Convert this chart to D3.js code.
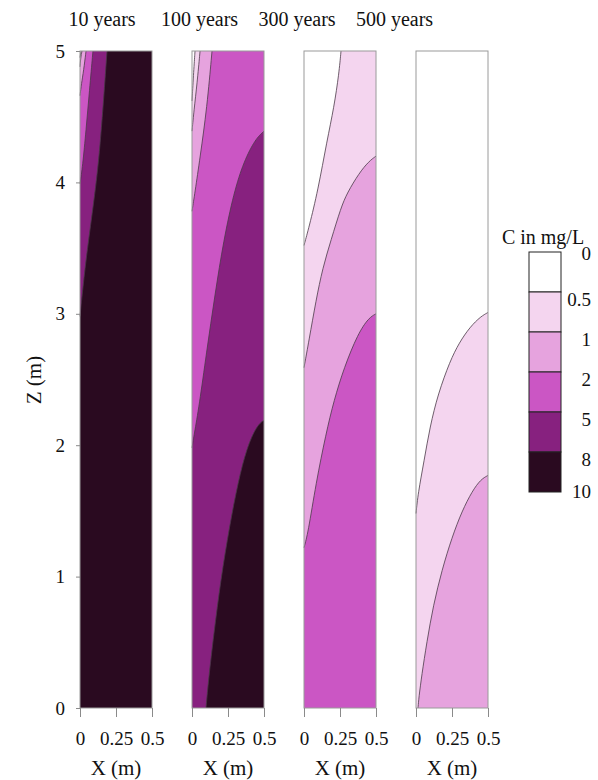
<!DOCTYPE html>
<html lang="en">
<head>
<meta charset="UTF-8">
<title>C in mg/L contours</title>
<script src="https://d3js.org/d3.v7.min.js"></script>
<style>
  body { margin: 0; background: #fff; }
  svg text { font-family: "Liberation Serif", "Times New Roman", serif; fill: #111; }
  .frame { fill: none; stroke: #9a9a9a; stroke-width: 1; }
  .contour { fill: none; stroke: #4a3a48; stroke-width: 0.8; }
  .axis path { display: none; }
  .axis line { stroke: #8a8a8a; }
</style>
</head>
<body>
<svg width="598" height="780"></svg>
<script>
// panel titles
const years = ["10 years", "100 years", "300 years", "500 years"];

// contour levels (mg/L) and the colour classes between them
const levels = [0.5, 1, 2, 5, 8];
const classColors = ["#ffffff", "#f4d5ef", "#e6a3de", "#cb56c4", "#87217f", "#2a0a20"];
const legendLabels = ["0", "0.5", "1", "2", "5", "8", "10"];

// axis ticks
const xTicks = [0, 0.25, 0.5];
const xTickLabels = ["0", "0.25", "0.5"];
const zTicks = [0, 1, 2, 3, 4, 5];

// contour lines: [x (m), z (m)]
const contours10y = [
  { level: 8, pts: [[0.1875, 5], [0.139, 4.24], [0.097, 3.86], [0.049, 3.48], [0.02, 3.2], [0, 2.98]] },
  { level: 5, pts: [[0.09, 5], [0.066, 4.7], [0.042, 4.4], [0.018, 4.12], [0, 3.99]] },
  { level: 2, pts: [[0.042, 5], [0.025, 4.85], [0.01, 4.75], [0, 4.66]] },
  { level: 1, pts: [[0.014, 5], [0.005, 4.95], [0, 4.88]] },
  { level: 0.5, pts: [[0.007, 5], [0, 4.95]] }
];
const contours100y = [
  { level: 8, pts: [[0.5, 2.19], [0.45, 2.15], [0.38, 1.98], [0.32, 1.72], [0.26, 1.38], [0.2, 0.98], [0.15, 0.55], [0.115, 0.22], [0.097, 0]] },
  { level: 5, pts: [[0.5, 4.39], [0.44, 4.33], [0.36, 4.16], [0.29, 3.92], [0.22, 3.56], [0.16, 3.15], [0.1, 2.7], [0.05, 2.3], [0.015, 2.08], [0, 1.98]] },
  { level: 2, pts: [[0.139, 5], [0.104, 4.57], [0.056, 4.19], [0.02, 3.92], [0, 3.78]] },
  { level: 1, pts: [[0.056, 5], [0.035, 4.75], [0.014, 4.55], [0, 4.39]] },
  { level: 0.5, pts: [[0.021, 5], [0.012, 4.85], [0, 4.62]] }
];
const contours300y = [
  { level: 2, pts: [[0.5, 3.0], [0.45, 2.97], [0.375, 2.85], [0.278, 2.59], [0.208, 2.34], [0.153, 2.09], [0.083, 1.71], [0.028, 1.33], [0, 1.22]] },
  { level: 1, pts: [[0.5, 4.2], [0.45, 4.16], [0.382, 4.07], [0.3, 3.92], [0.257, 3.81], [0.1875, 3.56], [0.13, 3.35], [0.083, 3.1], [0.035, 2.8], [0, 2.59]] },
  { level: 0.5, pts: [[0.257, 5], [0.243, 4.83], [0.208, 4.57], [0.16, 4.32], [0.097, 3.94], [0.035, 3.66], [0, 3.52]] }
];
const contours500y = [
  { level: 1, pts: [[0.5, 1.77], [0.45, 1.74], [0.39, 1.65], [0.32, 1.5], [0.25, 1.3], [0.18, 1.05], [0.12, 0.78], [0.075, 0.5], [0.04, 0.25], [0.02, 0.08], [0.014, 0]] },
  { level: 0.5, pts: [[0.5, 3.01], [0.45, 2.98], [0.375, 2.9], [0.3, 2.78], [0.236, 2.64], [0.153, 2.39], [0.097, 2.14], [0.056, 1.88], [0.014, 1.63], [0, 1.48]] }
];
const panels = [contours10y, contours100y, contours300y, contours500y];

const svg = d3.select("svg");

const panelLeft = 80, panelStep = 112, panelWidth = 72;
const zScale = d3.scaleLinear().domain([0, 5]).range([708, 51]);

// position of a boundary point along the panel edge (bottom -> left -> top -> right)
function edgeT(p) {
  if (p[1] <= 0) return 0.5 - p[0];
  if (p[0] <= 0) return 0.5 + p[1];
  if (p[1] >= 5) return 5.5 + p[0];
  return 6 + (5 - p[1]);
}
const corners = [[0, 0, 0.5], [0, 5, 5.5], [0.5, 5, 6]];

panels.forEach((contours, i) => {
  const x0 = panelLeft + i * panelStep;
  const xScale = d3.scaleLinear().domain([0, 0.5]).range([x0, x0 + panelWidth]);
  const line = d3.line()
    .x(d => xScale(d[0]))
    .y(d => zScale(d[1]))
    .curve(d3.curveBasis);

  const g = svg.append("g");
  const sorted = contours.slice().sort((a, b) => b.level - a.level);
  const topIdx = levels.indexOf(sorted[0].level);

  // background = class above the highest contour
  g.append("rect")
    .attr("x", x0).attr("y", zScale(5))
    .attr("width", panelWidth).attr("height", zScale(0) - zScale(5))
    .attr("fill", classColors[topIdx + 1]);

  // fill the upper-left side of each contour with the lower class
  sorted.forEach(c => {
    const k = levels.indexOf(c.level);
    const tStart = edgeT(c.pts[0]);
    const tEnd = edgeT(c.pts[c.pts.length - 1]);
    let d = line(c.pts);
    corners.filter(q => q[2] > tEnd && q[2] < tStart)
      .forEach(q => { d += "L" + xScale(q[0]) + "," + zScale(q[1]); });
    d += "Z";
    g.append("path").attr("d", d).attr("fill", classColors[k]);
  });

  sorted.forEach(c => {
    g.append("path").attr("class", "contour").attr("d", line(c.pts));
  });

  g.append("rect").attr("class", "frame")
    .attr("x", x0).attr("y", zScale(5))
    .attr("width", panelWidth).attr("height", zScale(0) - zScale(5));

  // x axis
  svg.append("g")
    .attr("class", "axis")
    .attr("transform", `translate(0,${zScale(0)})`)
    .call(d3.axisBottom(xScale).tickValues(xTicks)
      .tickFormat((d, j) => xTickLabels[j]).tickSize(9).tickPadding(15))
    .selectAll("text").style("font-size", "19px").style("font-family", null);

  svg.append("text")
    .attr("x", x0 + panelWidth / 2).attr("y", 775)
    .attr("text-anchor", "middle").style("font-size", "21px")
    .text("X (m)");

  svg.append("text")
    .attr("x", 102 + i * 97.5).attr("y", 26)
    .attr("text-anchor", "middle").style("font-size", "20px")
    .text(years[i]);
});

// z axis
svg.append("g")
  .attr("class", "axis")
  .attr("transform", `translate(${panelLeft},0)`)
  .call(d3.axisLeft(zScale).tickValues(zTicks).tickFormat(d3.format("d"))
    .tickSize(4).tickPadding(11))
  .selectAll("text").style("font-size", "19px").style("font-family", null);

svg.append("text")
  .attr("transform", "translate(41,380) rotate(-90)")
  .attr("text-anchor", "middle").style("font-size", "21px")
  .text("Z (m)");

// legend
const legY = d3.scaleLinear().domain([0, 6]).range([252, 492]);
const legX = 529, legW = 32;
svg.append("text")
  .attr("x", 543).attr("y", 244)
  .attr("text-anchor", "middle").style("font-size", "20px")
  .text("C in mg/L");

svg.append("g").selectAll("rect")
  .data(classColors)
  .join("rect")
  .attr("x", legX).attr("y", (d, i) => legY(i))
  .attr("width", legW).attr("height", (d, i) => legY(i + 1) - legY(i))
  .attr("fill", d => d)
  .attr("stroke", "#222").attr("stroke-width", 1);

svg.append("g").selectAll("text")
  .data(legendLabels)
  .join("text")
  .attr("x", 591)
  .attr("y", (d, i) => i === 0 ? legY(0) + 8 : i === 6 ? legY(6) + 6 : legY(i) + 14)
  .attr("text-anchor", "end").style("font-size", "19px")
  .text(d => d);
</script>
</body>
</html>
